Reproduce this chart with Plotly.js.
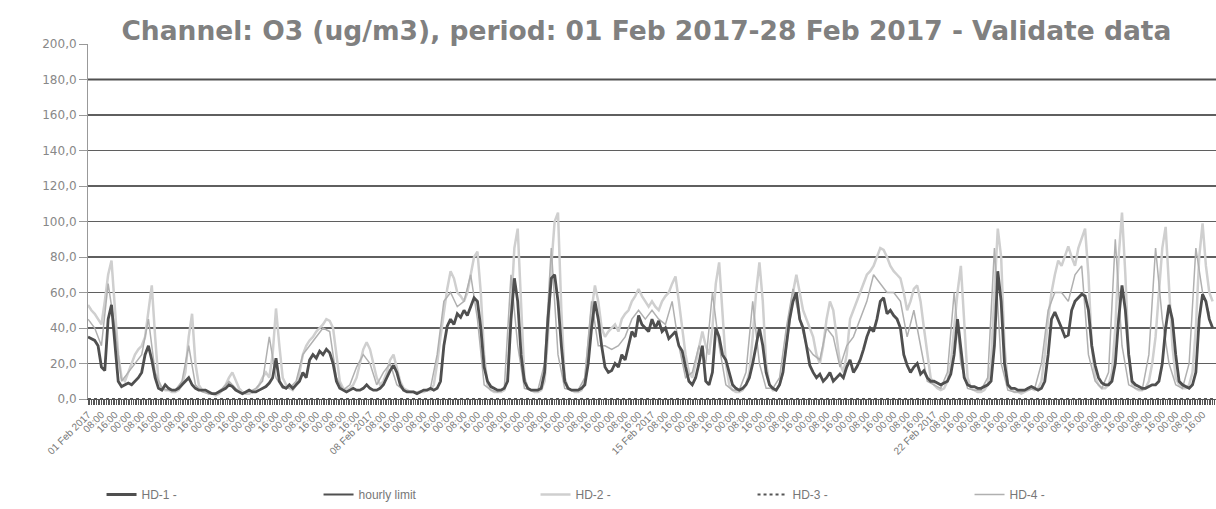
<!DOCTYPE html>
<html>
<head>
<meta charset="utf-8">
<script src="https://cdn.plot.ly/plotly-3.0.1.min.js"></script>
<style>html,body{margin:0;padding:0;background:#fff;}#chart{width:1216px;height:509px;}</style>
</head>
<body>
<div id="chart"></div>
<script>
// HD-1, every 2 hours from 01 Feb 2017 00:00 (12 values per day)
const HD1 = [
 35,34,33,30,18,16,45,53,30,10,7,8,
 9,8,10,12,15,25,30,22,12,6,5,8,
 6,5,5,6,8,10,12,8,6,5,5,5,
 4,3,3,4,5,6,8,7,5,4,3,4,
 5,4,4,5,6,7,9,12,23,10,7,6,
 8,6,8,10,15,12,22,25,23,27,25,28,
 26,20,10,6,5,4,5,6,5,5,6,8,
 6,5,5,6,8,12,16,19,15,8,5,4,
 4,4,3,4,5,5,6,5,6,10,30,41,
 45,42,48,46,50,47,52,57,55,40,18,10,
 7,6,5,5,6,10,45,68,55,25,10,6,
 5,5,5,6,15,45,68,70,55,30,10,6,
 5,5,5,6,8,20,40,55,45,30,18,15,
 16,20,18,25,22,30,38,35,47,42,40,38,
 45,40,44,38,40,34,36,38,30,27,18,10,
 8,12,20,30,10,8,15,40,35,25,22,15,
 8,6,5,6,8,12,20,30,40,30,15,8,
 6,5,8,15,30,45,55,60,45,40,30,19,
 15,12,14,10,12,15,10,12,14,12,18,22,
 15,18,22,28,35,40,38,45,55,57,48,50,
 47,45,40,25,19,15,18,20,14,16,12,10,
 10,9,8,9,10,14,25,45,30,12,8,7,
 7,6,6,7,8,10,30,72,55,20,8,6,
 6,5,5,5,6,7,6,5,6,10,25,45,
 49,45,40,35,36,50,55,57,59,58,50,30,
 19,12,9,8,8,10,20,45,64,50,25,10,
 8,7,6,6,7,8,8,10,20,40,53,45,
 25,10,8,7,6,8,15,45,59,55,45,40
];
// HD-2, every 2 hours
const HD2 = [
 53,50,48,45,42,55,70,78,50,25,12,10,
 15,20,25,28,30,35,50,64,35,10,6,5,
 5,4,4,5,8,15,35,48,20,8,5,4,
 3,3,2,3,5,8,12,15,10,6,4,3,
 3,4,5,8,12,15,12,25,51,30,12,8,
 6,5,8,15,25,30,33,35,38,40,42,45,
 44,40,25,10,6,5,6,8,12,20,28,32,
 28,20,12,8,10,15,22,25,18,10,6,5,
 4,4,3,4,4,5,5,8,20,35,50,62,
 72,68,60,58,55,60,70,80,83,60,25,8,
 5,4,4,4,5,12,50,85,96,50,12,6,
 5,4,4,5,10,35,75,100,105,50,12,6,
 5,4,4,5,10,30,50,64,55,40,35,38,
 40,42,38,45,48,50,55,58,62,58,55,52,
 55,52,50,55,58,60,65,69,55,40,25,15,
 12,20,30,38,30,25,40,65,77,50,20,8,
 5,4,4,5,8,15,35,60,77,55,20,8,
 5,5,8,15,30,45,60,70,60,50,45,40,
 35,25,20,30,45,55,50,35,20,15,25,45,
 50,55,60,65,70,72,75,80,85,84,80,75,
 72,70,68,60,50,55,62,64,55,40,25,12,
 8,6,5,6,10,20,40,60,75,45,12,6,
 5,4,4,5,8,20,60,96,80,30,8,5,
 4,4,3,4,5,6,5,6,10,25,45,60,
 70,78,75,80,86,80,75,85,90,96,70,30,
 12,8,6,6,8,15,40,80,105,70,25,8,
 6,5,5,6,10,20,35,60,85,97,60,30,
 12,8,6,6,8,15,40,80,99,75,60,55
];
// HD-4, every 4 hours (6 values per day)
const HD4 = [
 45,40,30,65,40,10,  15,20,25,45,15,6,  5,5,10,30,8,4,  3,3,6,10,6,3,
 4,6,10,35,12,6,  6,10,25,30,35,40,  38,12,5,8,18,25,  20,8,15,20,8,5,
 4,4,5,6,25,55,  60,52,55,70,45,8,  5,4,6,70,30,6,  5,5,20,85,25,6,
 5,5,12,55,30,30,  28,30,35,45,50,45,  50,45,42,55,30,12,  15,30,20,60,30,8,
 5,5,15,55,20,6,  6,12,40,62,45,30,  25,22,40,35,18,30,  35,45,55,70,65,60,
 60,55,35,50,30,10,  8,6,15,60,20,6,  5,5,12,85,20,5,  4,4,5,6,20,50,
 60,60,55,70,75,25,  10,6,15,90,30,8,  6,5,25,85,45,20,  8,6,20,85,60,48
];
const hourlyLimit = [180, 180];
const HD3 = [0, 0];
const periodHours = [0, 672];

const weekLabels = ["01 Feb 2017", "08 Feb 2017", "15 Feb 2017", "22 Feb 2017"];
const timeLabels = ["00:00", "08:00", "16:00"];

const x2 = HD1.map((_, i) => i * 2);
const x4 = HD4.map((_, i) => i * 4);

const tickvals = [], ticktext = [];
for (let h = 0; h < 672; h += 8) {
  tickvals.push(h);
  if (h % 168 === 0) ticktext.push(weekLabels[h / 168]);
  else ticktext.push(timeLabels[(h % 24) / 8]);
}

const traces = [
  {name: "hourly limit", x: periodHours, y: hourlyLimit, mode: "lines",
   line: {color: "#505050", width: 2}, legendrank: 2},
  {name: "HD-2 -", x: x2, y: HD2, mode: "lines",
   line: {color: "#cfcfcf", width: 2.5}, legendrank: 3},
  {name: "HD-4 -", x: x4, y: HD4, mode: "lines",
   line: {color: "#b0b0b0", width: 1.5}, legendrank: 5},
  {name: "HD-3 -", x: periodHours, y: HD3, mode: "lines",
   line: {color: "#555", width: 2, dash: "dot"}, legendrank: 4},
  {name: "HD-1 -", x: x2, y: HD1, mode: "lines",
   line: {color: "#4f4f4f", width: 2.8}, legendrank: 1}
];

const layout = {
  width: 1216, height: 509,
  margin: {l: 88, r: 0, t: 44, b: 107},
  paper_bgcolor: "#fff", plot_bgcolor: "#fff",
  font: {family: "Liberation Sans, Arial, sans-serif", color: "#777", size: 12},
  separators: ",.",
  title: {text: "Channel: O3 (ug/m3), period: 01 Feb 2017-28 Feb 2017 - Validate data",
          font: {family: "DejaVu Sans", size: 26.5, color: "#808080", weight: "bold"},
          x: 0.495, xanchor: "center", xref: "paper", y: 0.94, yref: "container", yanchor: "middle"},
  xaxis: {range: [0, 672], tickmode: "array", tickvals: tickvals, ticktext: ticktext,
          tickangle: -45, tickfont: {size: 10, color: "#777"},
          showgrid: false, zeroline: false, showline: true, linecolor: "#555", linewidth: 1,
          ticks: "outside", ticklen: 5, tickcolor: "#555",
          minor: {dtick: 1, ticks: "outside", ticklen: 5, tickcolor: "#555", tickwidth: 1, showgrid: false}},
  yaxis: {range: [0, 200], dtick: 20, tick0: 0, tickformat: ".1f",
          tickfont: {family: "DejaVu Sans", size: 12, color: "#888"},
          showgrid: true, gridcolor: "#5f5f5f", gridwidth: 1.2, zeroline: false,
          showline: true, linecolor: "#999", linewidth: 1,
          ticks: "outside", ticklen: 8, tickcolor: "#999"},
  legend: {orientation: "h", x: 0.012, xanchor: "left", y: -0.27, yanchor: "middle",
           entrywidth: 172, entrywidthmode: "pixels",
           font: {size: 12, color: "#777"}, bgcolor: "rgba(0,0,0,0)"},
  showlegend: true
};

Plotly.newPlot("chart", traces, layout, {displayModeBar: false, staticPlot: true});
</script>
</body>
</html>
